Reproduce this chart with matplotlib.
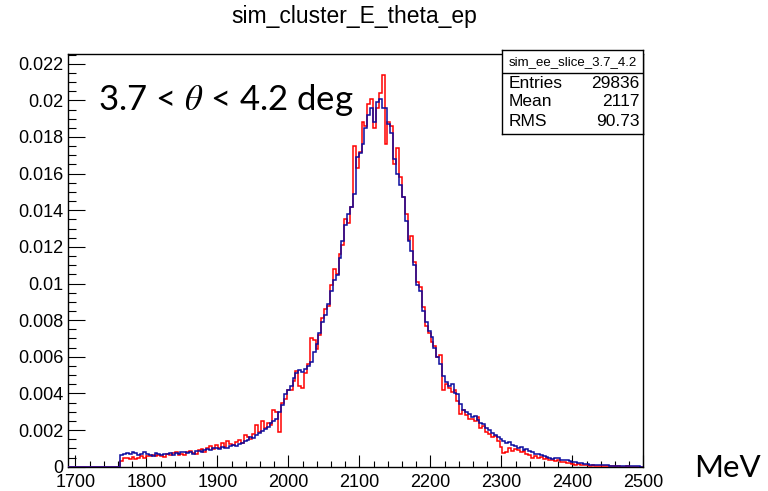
import numpy as np
import matplotlib
matplotlib.use('Agg')
import matplotlib.pyplot as plt
from matplotlib.ticker import MultipleLocator, FuncFormatter

plt.rcParams['mathtext.fontset'] = 'stix'

# ---------------- data ----------------
x_min, x_max, n_bins = 1690, 2500, 200

blue_vals = [
    0, 0, 0, 0, 0, 0, 0, 0, 0, 0,
    0, 0, 0, 0, 0, 0, 0, 0,
    0.00062, 0.00070, 0.00074, 0.00068, 0.00078, 0.00076, 0.00064, 0.00070, 0.00080, 0.00072,
    0.00066, 0.00060, 0.00074, 0.00070, 0.00062, 0.00072, 0.00068, 0.00074, 0.00064, 0.00076,
    0.00070, 0.00078, 0.00082, 0.00074, 0.00080, 0.00072, 0.00084, 0.00088, 0.00080, 0.00092,
    0.00098, 0.00090, 0.00104, 0.00100, 0.00096, 0.00110, 0.00104, 0.00100, 0.00114, 0.00120,
    0.00112, 0.00126, 0.00132, 0.00138, 0.00146, 0.00160, 0.00156, 0.00172, 0.00184, 0.00194,
    0.00204, 0.00218, 0.00236, 0.00248, 0.00262, 0.00300, 0.00336, 0.00395, 0.00420, 0.00440,
    0.00486, 0.00510, 0.00530, 0.00515, 0.00532, 0.00548, 0.00572, 0.00625, 0.00672, 0.00730,
    0.00790, 0.00830, 0.00890, 0.00960, 0.01020, 0.01045, 0.01140, 0.01230, 0.01320, 0.01380,
    0.01420, 0.01490, 0.01690, 0.01710, 0.01760, 0.01850, 0.01920, 0.01960, 0.01880, 0.01990,
    0.02010, 0.01960, 0.01960, 0.01870, 0.01820, 0.01680, 0.01600, 0.01540, 0.01470, 0.01340,
    0.01230, 0.01180, 0.01100, 0.00990, 0.00960, 0.00850, 0.00790, 0.00740, 0.00710, 0.00650,
    0.00600, 0.00560, 0.00495, 0.00460, 0.00440, 0.00450, 0.00405, 0.00395, 0.00340, 0.00310,
    0.00300, 0.00285, 0.00270, 0.00275, 0.00255, 0.00240, 0.00232, 0.00210, 0.00200, 0.00185,
    0.00175, 0.00160, 0.00150, 0.00142, 0.00130, 0.00135, 0.00120, 0.00115, 0.00100, 0.00108,
    0.00090, 0.00095, 0.00085, 0.00078, 0.00072, 0.00068, 0.00064, 0.00058, 0.00052, 0.00050,
    0.00042, 0.00048, 0.00046, 0.00038, 0.00034, 0.00036, 0.00030, 0.00027, 0.00024, 0.00022,
    0.00020, 0.00016, 0.00014, 0.00012, 0.00010, 0.00011, 0.00008, 0.00009, 0.00007, 0.00008,
    0.00006, 0.00005, 0.00006, 0.00004, 0.00005, 0.00003, 0.00004, 0.00003, 0.00002, 0.00003,
    0.00002, 0.00001,
]

red_vals = [
    0, 0, 0, 0, 0, 0, 0, 0, 0, 0,
    0, 0, 0, 0, 0, 0, 0, 0,
    0.00030, 0.00050, 0.00046, 0.00040, 0.00052, 0.00044, 0.00050, 0.00056, 0.00050, 0.00060,
    0.00056, 0.00064, 0.00058, 0.00066, 0.00060, 0.00054, 0.00070, 0.00064, 0.00074, 0.00080,
    0.00066, 0.00072, 0.00062, 0.00078, 0.00084, 0.00076, 0.00070, 0.00090, 0.00094, 0.00082,
    0.00100, 0.00112, 0.00096, 0.00120, 0.00104, 0.00130, 0.00110, 0.00140, 0.00124, 0.00116,
    0.00136, 0.00148, 0.00130, 0.00174, 0.00160, 0.00150, 0.00178, 0.00226, 0.00190, 0.00250,
    0.00210, 0.00240, 0.00226, 0.00310, 0.00300, 0.00190, 0.00350, 0.00370, 0.00420, 0.00420,
    0.00470, 0.00520, 0.00440, 0.00430, 0.00510, 0.00560, 0.00700, 0.00690, 0.00640, 0.00720,
    0.00810, 0.00860, 0.00880, 0.00990, 0.01080, 0.01050, 0.01160, 0.01210, 0.01350, 0.01330,
    0.01420, 0.01750, 0.01630, 0.01720, 0.01880, 0.01860, 0.01980, 0.02010, 0.01850, 0.01960,
    0.02040, 0.02140, 0.01760, 0.01880, 0.01860, 0.01650, 0.01740, 0.01580, 0.01470, 0.01380,
    0.01240, 0.01260, 0.01120, 0.01010, 0.00980, 0.00870, 0.00770, 0.00730, 0.00680, 0.00660,
    0.00600, 0.00610, 0.00420, 0.00450, 0.00430, 0.00410, 0.00420, 0.00360, 0.00290, 0.00310,
    0.00280, 0.00260, 0.00260, 0.00250, 0.00270, 0.00210, 0.00220, 0.00190, 0.00180, 0.00160,
    0.00170, 0.00140, 0.00110, 0.00075, 0.00080, 0.00100, 0.00085, 0.00095, 0.00090, 0.00080,
    0.00085, 0.00070, 0.00065, 0.00047, 0.00060, 0.00050, 0.00055, 0.00040, 0.00045, 0.00038,
    0.00034, 0.00030, 0.00036, 0.00026, 0.00028, 0.00022, 0.00018, 0.00015, 0.00012, 0.00016,
    0.00010, 0.00008, 0.00012, 0.00006, 0.00008, 0.00004, 0.00006, 0.00003, 0.00005, 0.00002,
    0.00003, 0.00002, 0.00001, 0.00002, 0.00001, 0.00001, 0.00002, 0.00001, 0.00001, 0.00001,
    0.00001, 0.00001,
]

x_ticks = [1700, 1800, 1900, 2000, 2100, 2200, 2300, 2400, 2500]
y_ticks = [0, 0.002, 0.004, 0.006, 0.008, 0.010, 0.012, 0.014, 0.016, 0.018, 0.020, 0.022]

title = "sim_cluster_E_theta_ep"
stats_name = "sim_ee_slice_3.7_4.2"
stats_rows = [("Entries", "29836"), ("Mean", "2117"), ("RMS", "90.73")]

# ---------------- figure ----------------
W, H = 768, 491
fig = plt.figure(figsize=(W / 100, H / 100), dpi=100)

def fx(px):
    return px / W

def fy(py):
    return 1 - py / H

ax_l, ax_r, ax_t, ax_b = 68.3, 643.3, 54, 466.7
ax = fig.add_axes([fx(ax_l), fy(ax_b), (ax_r - ax_l) / W, (ax_b - ax_t) / H])

edges = np.linspace(x_min, x_max, n_bins + 1)
ax.stairs(red_vals, edges, color='#ff0000', lw=1.1, zorder=3)
ax.stairs(blue_vals, edges, color='#0c0c9e', lw=1.1, zorder=4)

ax.set_xlim(x_min, x_max)
ax.set_ylim(0, 0.02253)

ax.set_xticks(x_ticks)
ax.set_yticks(y_ticks)
ax.xaxis.set_minor_locator(MultipleLocator(20))
ax.yaxis.set_minor_locator(MultipleLocator(0.0005))

def yfmt(v, pos):
    if abs(v) < 1e-12:
        return "0"
    return f"{v:.3f}".rstrip('0')

ax.yaxis.set_major_formatter(FuncFormatter(yfmt))
ax.xaxis.set_major_formatter(FuncFormatter(lambda v, p: f"{int(round(v))}"))

font = 'Liberation Sans'
ax.tick_params(axis='both', which='both', direction='in', top=False, right=False,
               colors='black', width=0.8)
ax.tick_params(axis='x', which='major', length=9, pad=5, labelsize=13)
ax.tick_params(axis='x', which='minor', length=4.5)
ax.tick_params(axis='y', which='major', length=12, pad=3.5, labelsize=13)
ax.tick_params(axis='y', which='minor', length=6)
for lab in ax.get_xticklabels() + ax.get_yticklabels():
    lab.set_fontfamily(font)
for sp in ax.spines.values():
    sp.set_linewidth(1.0)
    sp.set_color('black')

# title
fig.text(fx(354), fy(17), title, ha='center', va='center', fontsize=16.5, family=font)

# big annotation
fig.text(fx(98), fy(100), r"3.7 < $\theta$ < 4.2 deg", ha='left', va='center',
         fontsize=25, family='Lato')
fig.text(fx(694), fy(468), "MeV", ha='left', va='center', fontsize=22.5, family='Lato')

# stats box
bx_l, bx_r, bx_t, bx_b = 501.7, 643.3, 50, 134.3
sax = fig.add_axes([fx(bx_l), fy(bx_b), (bx_r - bx_l) / W, (bx_b - bx_t) / H])
sax.set_xlim(0, 1)
sax.set_ylim(0, 1)
sax.set_xticks([])
sax.set_yticks([])
sax.set_facecolor('white')
for sp in sax.spines.values():
    sp.set_linewidth(1.0)
    sp.set_color('black')
sep = (bx_b - 73.3) / (bx_b - bx_t)
sax.axhline(sep, color='black', lw=1.0)
sax.text(0.5, (1 + sep) / 2, stats_name, ha='center', va='center', fontsize=9.5, family=font)
row_y = [84, 102, 122]
for (k, v), py in zip(stats_rows, row_y):
    yy = (bx_b - py) / (bx_b - bx_t)
    sax.text((509 - bx_l) / (bx_r - bx_l), yy, k, ha='left', va='center', fontsize=12.5, family=font)
    sax.text((639.5 - bx_l) / (bx_r - bx_l), yy, v, ha='right', va='center', fontsize=12.5, family=font)

fig.savefig('out.png', dpi=100)
